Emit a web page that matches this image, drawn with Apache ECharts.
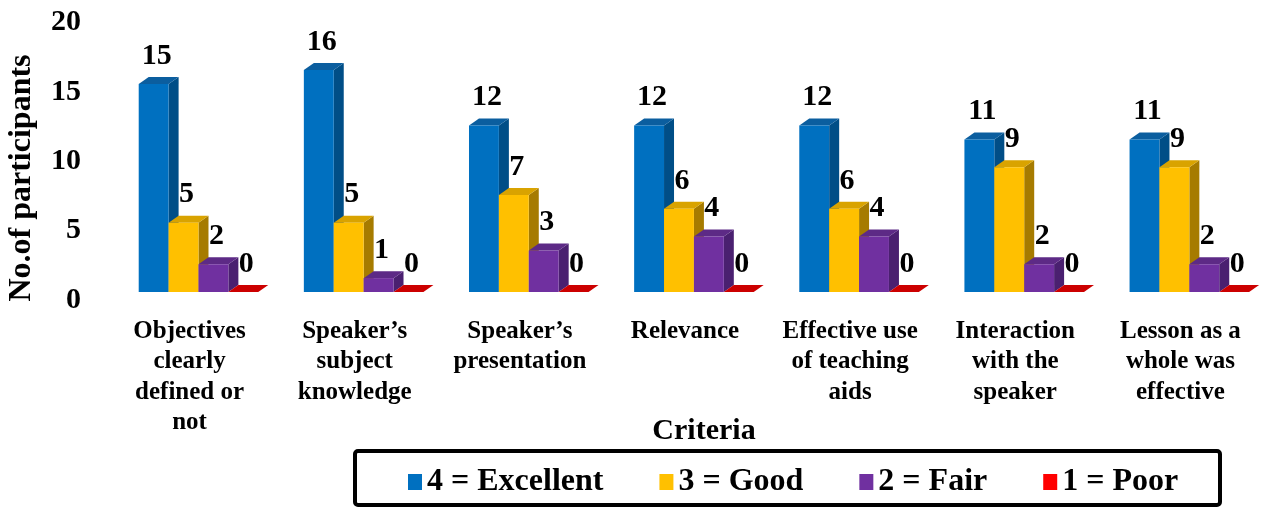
<!DOCTYPE html>
<html>
<head>
<meta charset="utf-8">
<script src="https://cdn.jsdelivr.net/npm/echarts@6/dist/echarts.min.js"></script>
<style>
  html, body { margin: 0; padding: 0; background: #fff; }
  #chart { width: 1263px; height: 508px; }
</style>
</head>
<body>
<div id="chart"></div>
<script>
const categories = [
  'Objectives\nclearly\ndefined or\nnot',
  'Speaker\u2019s\nsubject\nknowledge',
  'Speaker\u2019s\npresentation',
  'Relevance',
  'Effective use\nof teaching\naids',
  'Interaction\nwith the\nspeaker',
  'Lesson as a\nwhole was\neffective'
]
const excellent = [15, 16, 12, 12, 12, 11, 11]
const good = [5, 5, 7, 6, 6, 9, 9]
const fair = [2, 1, 3, 4, 4, 2, 2]
const poor = [0, 0, 0, 0, 0, 0, 0]
const seriesNames = ['4 = Excellent', '3 = Good', '2 = Fair', '1 = Poor']

const FONT = '"Liberation Serif", "Times New Roman", serif'

// front / top / side colours for each series
const faces = [
  { front: '#0070C0', top: '#0B5E9F', side: '#004E87' },
  { front: '#FFC000', top: '#D9A300', side: '#A67B00' },
  { front: '#7030A0', top: '#5D2A86', side: '#4A2070' },
  { front: '#FF0000', top: '#CC0000', side: '#A00000' }
]

function render3DBar(k) {
  const c = faces[k]
  return function (params, api) {
    const cat = api.value(0)
    const val = api.value(1)
    const band = api.size([1, 0])[0]
    const base = api.coord([cat, 0])
    const top = api.coord([cat, val])
    const bw = band * 0.181
    const x0 = base[0] - band * 0.308 + k * bw
    const x1 = x0 + bw
    const yb = base[1]
    const yt = top[1]
    const dx = 10
    const dy = -7
    return {
      type: 'group',
      children: [
        {
          type: 'polygon',
          shape: { points: [[x1, yt], [x1 + dx, yt + dy], [x1 + dx, yb + dy], [x1, yb]] },
          style: { fill: c.side }
        },
        {
          type: 'polygon',
          shape: { points: [[x0, yt], [x0 + dx, yt + dy], [x1 + dx, yt + dy], [x1, yt]] },
          style: { fill: c.top }
        },
        {
          type: 'rect',
          shape: { x: x0, y: yt, width: bw, height: yb - yt },
          style: { fill: c.front }
        },
        {
          type: 'text',
          style: {
            x: x0 + bw / 2 + 3,
            y: yt - 28,
            text: String(val),
            fill: '#000',
            font: 'bold 30px ' + FONT,
            align: 'center',
            verticalAlign: 'middle'
          }
        }
      ]
    }
  }
}

const chart = echarts.init(document.getElementById('chart'))

const allValues = [excellent, good, fair, poor]

chart.setOption({
  animation: false,
  grid: { left: 107, top: 14.6, width: 1160, bottom: 216 },
  legend: {
    data: seriesNames,
    left: 408,
    top: 466,
    padding: 0,
    itemWidth: 14,
    itemHeight: 16,
    itemGap: 56,
    icon: 'rect',
    textStyle: { fontFamily: FONT, fontWeight: 'bold', fontSize: 32, color: '#000' }
  },
  xAxis: {
    type: 'category',
    data: categories,
    axisLine: { show: false },
    axisTick: { show: false },
    axisLabel: {
      interval: 0,
      margin: 24,
      fontFamily: FONT,
      fontWeight: 'bold',
      fontSize: 25,
      lineHeight: 30.5,
      color: '#000'
    }
  },
  yAxis: {
    type: 'value',
    min: 0,
    max: 20,
    interval: 5,
    splitLine: { show: false },
    axisLine: { show: false },
    axisTick: { show: false },
    axisLabel: {
      margin: 26,
      formatter: '{v|{value}}',
      rich: {
        v: {
          padding: [16, 0, 0, 0],
          fontFamily: FONT,
          fontWeight: 'bold',
          fontSize: 30,
          color: '#000'
        }
      }
    }
  },
  graphic: [
    {
      type: 'text',
      x: 22,
      y: 178,
      rotation: Math.PI / 2,
      style: {
        text: 'No.of participants',
        font: 'bold 32px ' + FONT,
        fill: '#000',
        align: 'center',
        verticalAlign: 'middle'
      }
    },
    {
      type: 'text',
      x: 704,
      y: 431,
      style: {
        text: 'Criteria',
        font: 'bold 30px ' + FONT,
        fill: '#000',
        align: 'center',
        verticalAlign: 'middle'
      }
    },
    {
      type: 'rect',
      shape: { x: 355, y: 451, width: 865, height: 54, r: 3 },
      style: { fill: 'none', stroke: '#000', lineWidth: 4 }
    }
  ],
  series: seriesNames.map((name, k) => ({
    name: name,
    type: 'custom',
    renderItem: render3DBar(k),
    itemStyle: { color: faces[k].front },
    encode: { x: 0, y: 1 },
    data: allValues[k].map((v, i) => [i, v])
  }))
})
</script>
</body>
</html>
